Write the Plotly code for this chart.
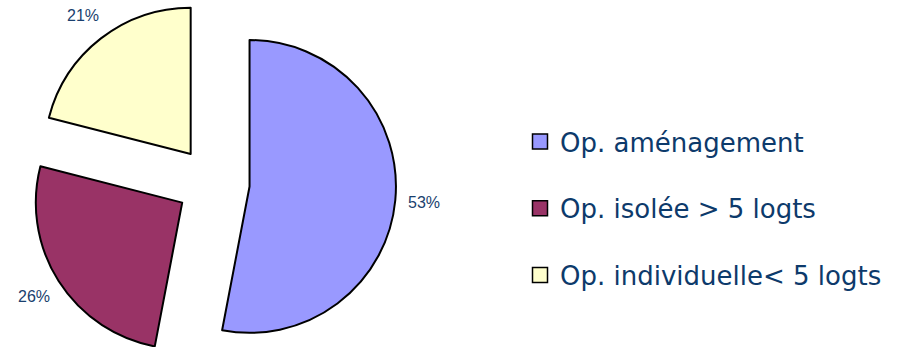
import numpy as np
import plotly.graph_objects as go

# Répartition des opérations par type
categories = ["Op. aménagement", "Op. isolée > 5 logts", "Op. individuelle< 5 logts"]
shares = [53, 26, 21]
colors = ["#9999FF", "#993366", "#FFFFCC"]

W, H = 903, 366
PULL = 0.25
DOM_X = [0, 0.472]

fig = go.Figure()

fig.add_trace(
    go.Pie(
        labels=categories,
        values=shares,
        sort=False,
        direction="clockwise",
        rotation=0,
        pull=[PULL] * len(shares),
        marker=dict(colors=colors, line=dict(color="#000000", width=2)),
        textinfo="none",
        domain=dict(x=DOM_X, y=[0, 1]),
        hoverinfo="label+percent",
        showlegend=False,
    )
)

# Legend entries (square swatches), one group each so the gap can be set
for i, (name, col) in enumerate(zip(categories, colors)):
    fig.add_trace(
        go.Scatter(
            x=[None], y=[None], mode="markers", name=name,
            legendgroup=f"g{i}",
            marker=dict(symbol="square", size=15, color=col,
                        line=dict(color="#000000", width=1.5)),
        )
    )

# Percentage labels placed along each slice's bisector, outside the pulled slice
cx = W * (DOM_X[0] + DOM_X[1]) / 2
cy = H / 2
r = min(W * (DOM_X[1] - DOM_X[0]), H) / (2 + 2 * PULL)
frac = np.array(shares, dtype=float) / sum(shares)
mid = (np.cumsum(frac) - frac / 2) * 2 * np.pi
dist = r * (1 + PULL) + 29
for f, a in zip(frac, mid):
    px = cx + dist * np.sin(a)
    py = cy - dist * np.cos(a)
    fig.add_annotation(
        x=px / W, y=1 - py / H, xref="paper", yref="paper",
        xanchor="center", yanchor="middle",
        text=f"{round(f * 100)}%", showarrow=False,
        font=dict(family="Liberation Sans, Arial, sans-serif", size=16, color="#1a3f6e"),
    )

fig.update_layout(
    width=W,
    height=H,
    margin=dict(l=0, r=0, t=0, b=0),
    paper_bgcolor="#FFFFFF",
    plot_bgcolor="#FFFFFF",
    xaxis=dict(visible=False),
    yaxis=dict(visible=False),
    showlegend=True,
    legend=dict(
        x=520 / W,
        xanchor="left",
        y=1 - 118 / H,
        yanchor="top",
        traceorder="grouped",
        tracegroupgap=30,
        font=dict(family="DejaVu Sans, Verdana, sans-serif", size=26, color="#0d3a6b"),
        bgcolor="rgba(0,0,0,0)",
    ),
)

fig.write_html("out.html")
